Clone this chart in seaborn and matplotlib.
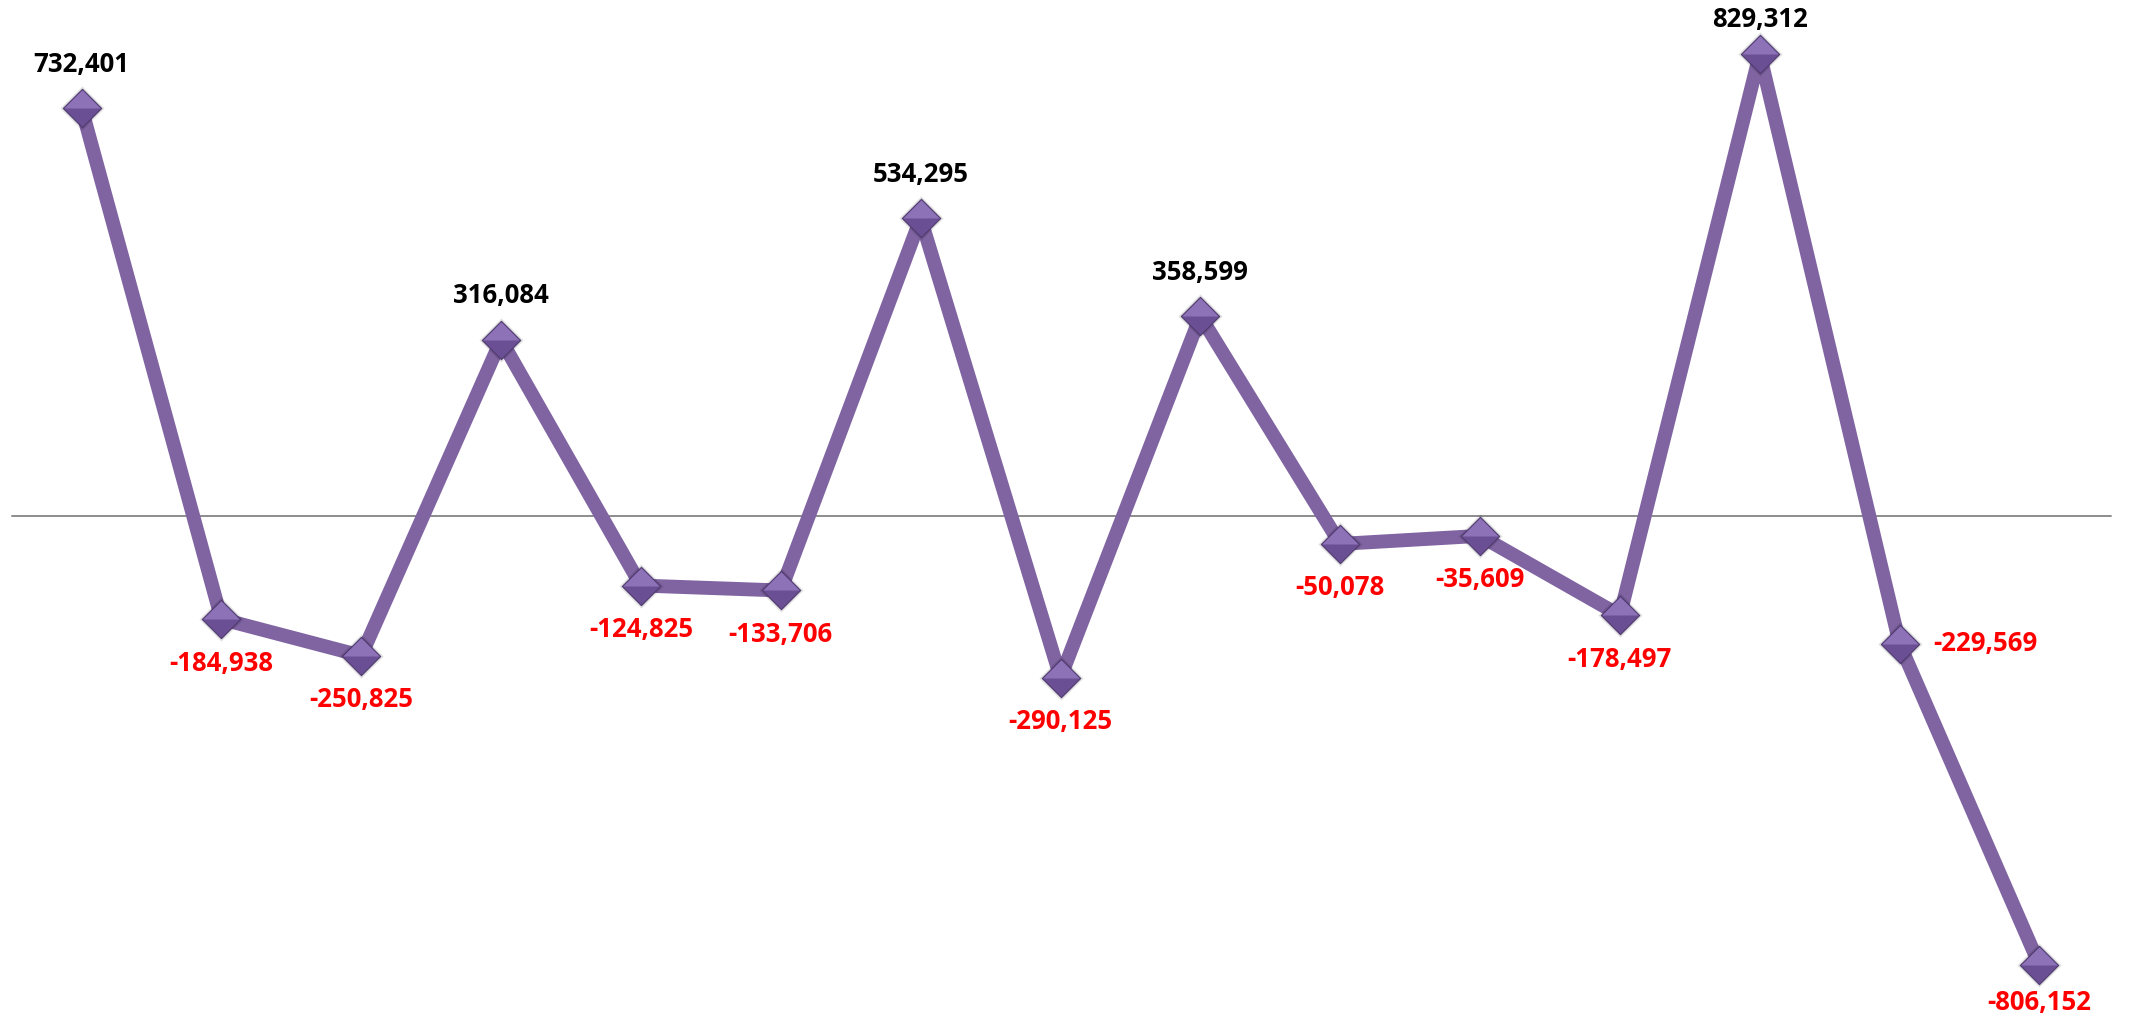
import numpy as np
import pandas as pd
import seaborn as sns
import matplotlib.pyplot as plt

points = list(range(1, 16))
values = [732401, -184938, -250825, 316084, -124825, -133706, 534295, -290125,
          358599, -50078, -35609, -178497, 829312, -229569, -806152]

df = pd.DataFrame({'point': points, 'value': values})

# where each label sits: above positives, below negatives, one to the right
sides = ['above' if v >= 0 else 'below' for v in values]
sides[13] = 'right'

sns.set_style('white')
plt.rcParams['font.family'] = ['Open Sans', 'DejaVu Sans']

fig = plt.figure(figsize=(21.29, 10.21), dpi=100)
ax = fig.add_axes([0, 0, 1, 1])

purple = '#8064A2'
ms = 19.5

ax.axhline(0, color='#8C8C8C', linewidth=1.4, xmin=0.0056, xmax=0.9916, zorder=1)

sns.lineplot(data=df, x='point', y='value', ax=ax, color=purple, linewidth=10,
             zorder=2)

# soft shadow behind the diamonds
sns.scatterplot(data=df, x='point', y='value', ax=ax, marker='D', s=(ms + 3) ** 2,
                color='#000000', alpha=0.12, linewidth=0, zorder=3)
# diamond marker, darker lower half
sns.scatterplot(data=df, x='point', y='value', ax=ax, marker='D', s=ms ** 2,
                color='#6B4F94', edgecolor='#4E3A6E', linewidth=0.8, zorder=4)
# lighter upper half
upper = [(0, 0.5), (-0.5, 0), (0.5, 0), (0, 0.5)]
sns.scatterplot(data=df, x='point', y='value', ax=ax, marker=upper,
                s=(ms * 1.414) ** 2 * 0.9, color='#8E72B8', linewidth=0, zorder=5)

ax.set_xlim(0.417, 15.64)
ax.set_ylim(-906600, 926400)

# labels kept inside the figure
fig_h = fig.bbox.height
pad = 19
for x, y, side in zip(points, values, sides):
    px, py = ax.transData.transform((x, y))
    color = 'black' if y >= 0 else '#FF0000'
    ha = 'center'
    lx, ly = px, py
    if side == 'above':
        ly = min(py + 44, fig_h - pad)
    elif side == 'below':
        ly = max(py - 44, pad)
    else:
        lx, ha = px + 34, 'left'
    ax.annotate(f'{y:,}', (x, y), xytext=(lx, ly), textcoords='figure pixels',
                ha=ha, va='center', fontsize=18.5, fontweight='bold',
                color=color)

ax.set_xlabel('')
ax.set_ylabel('')
ax.set_xticks([])
ax.set_yticks([])
sns.despine(left=True, bottom=True)

fig.savefig('out.png', dpi=100)
